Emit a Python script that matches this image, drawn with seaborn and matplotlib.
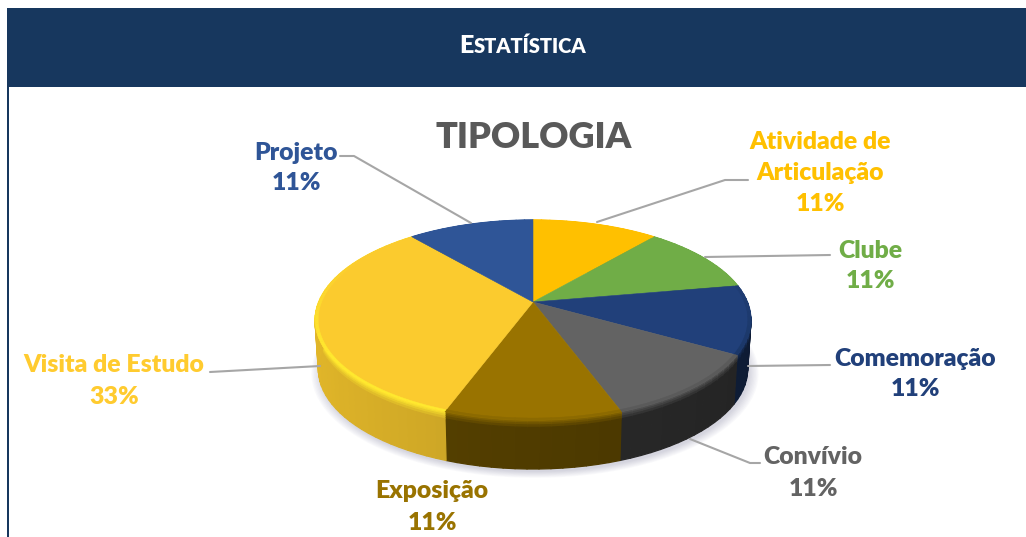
import numpy as np
import matplotlib
matplotlib.use('Agg')
import matplotlib.pyplot as plt
import seaborn as sns
from matplotlib.collections import PolyCollection
from matplotlib.colors import to_rgb
from matplotlib.patches import Polygon, Rectangle
from matplotlib.transforms import Transform

# chart data, clockwise from the top
categories = ['Atividade de\nArticulação', 'Clube', 'Comemoração', 'Convívio',
              'Exposição', 'Visita de Estudo', 'Projeto']
values = [11, 11, 11, 11, 11, 33, 11]

slice_colors = ['#FFC000', '#70AD47', '#21407A', '#636363',
                '#997300', '#FBCB2E', '#2F5597']
label_colors = ['#FFC000', '#70AD47', '#21407A', '#636363',
                '#997300', '#FFCB2F', '#2F5597']
rim_colors = ['#FFC000', '#70AD47', '#1B3768', '#5A5A5A',
              '#8C6A00', '#FFE92E', '#2F5597']
wall_dark = [0.6, 0.6, 0.5, 0.42, 0.52, 0.78, 0.6]

# label centres and leader lines, in pixels
label_xy = [(820, 173), (870, 266), (915, 374), (813, 473),
            (432, 507), (114, 381), (296, 168)]
leaders = [[(597, 222), (725, 180), (748, 180)],
           [(705, 257), (830, 255)],
           [(748, 366), (830, 365)],
           [(690, 439), (750, 463), (760, 463)],
           [],
           [(210, 372), (320, 366)],
           [(340, 156), (354, 156), (471, 223)]]

# perspective of the pie
CX, CY = 533, 302
A, B, P = 214.4, 96.8, 0.18
DEPTH = 49


def project(u, v, z=0.0):
    w = 1 + P * v
    return CX + A * u / w * (1 - 0.015 * z), CY - B * v / w + DEPTH * z


class TiltTransform(Transform):
    input_dims = 2
    output_dims = 2
    is_separable = False
    has_inverse = False

    def transform_non_affine(self, values):
        pts = np.asarray(values, dtype=float)
        x, y = project(pts[:, 0], pts[:, 1])
        return np.column_stack([x, y])


sns.set_theme(style='white')
plt.rcParams['font.family'] = ['Lato', 'DejaVu Sans']

fig = plt.figure(figsize=(10.26, 5.37), dpi=100)
ax = fig.add_axes([0, 0, 1, 1])

# header band and left border
ax.add_patch(Rectangle((7, 8), 1019, 79, color='#17375E', lw=0, zorder=10))
ax.add_patch(Rectangle((7, 87), 2, 450, color='#17375E', lw=0, zorder=10))

edges = np.cumsum([0] + values) / sum(values) * 2 * np.pi
tilt = TiltTransform() + ax.transData

# soft shadow under the pie
t = np.linspace(0, 2 * np.pi, 200)
for s in np.linspace(1.0, 1.04, 8):
    x, y = project(np.sin(t) * s, np.cos(t) * s, 1.0)
    ax.add_patch(Polygon(np.column_stack([x + 2, y + 3]), color=(0.35, 0.35, 0.5),
                         alpha=0.03, lw=0, zorder=1))

# side wall, with a blurred band under the rim
bands = [0, 0.03, 0.06, 0.1, 0.15, 1.0]
for i in range(len(values)):
    th = np.linspace(edges[i], edges[i + 1], max(int(values[i] * 1.5), 12))
    quads, cols = [], []
    base = np.array(to_rgb(slice_colors[i]))
    rim = np.array(to_rgb(rim_colors[i]))
    for a0, a1 in zip(th[:-1], th[1:]):
        um = np.sin((a0 + a1) / 2)
        wall = np.clip(base * wall_dark[i] * (1 - 0.15 * um), 0, 1)
        for b, (z0, z1) in enumerate(zip(bands[:-1], bands[1:])):
            mix = b / (len(bands) - 2)
            quads.append([project(np.sin(a0), np.cos(a0), z0),
                          project(np.sin(a1), np.cos(a1), z0),
                          project(np.sin(a1), np.cos(a1), z1),
                          project(np.sin(a0), np.cos(a0), z1)])
            cols.append(rim * (1 - mix) + wall * mix)
    ax.add_collection(PolyCollection(quads, facecolors=cols, edgecolors=cols,
                                     linewidths=0.9, zorder=2))

# top face
wedges, _ = ax.pie(values, colors=slice_colors, startangle=90, counterclock=False,
                   radius=1, wedgeprops={'linewidth': 0.4})
for w, c in zip(wedges, slice_colors):
    w.set_transform(tilt)
    w.set_edgecolor(c)
    w.set_zorder(3)

# bright bevel on the front part of the top edge, fading towards the back
for i in range(len(values)):
    th = np.linspace(edges[i], edges[i + 1], max(int(values[i] * 1.5), 12))
    base = np.array(to_rgb(slice_colors[i]))
    rim = np.array(to_rgb(rim_colors[i]))
    quads, cols = [], []
    for a0, a1 in zip(th[:-1], th[1:]):
        quads.append([project(np.sin(a0) * 0.986, np.cos(a0) * 0.986),
                      project(np.sin(a1) * 0.986, np.cos(a1) * 0.986),
                      project(np.sin(a1), np.cos(a1)),
                      project(np.sin(a0), np.cos(a0))])
        fade = np.clip(0.5 - np.cos((a0 + a1) / 2), 0, 1)
        cols.append(base * (1 - fade) + rim * fade)
    ax.add_collection(PolyCollection(quads, facecolors=cols, edgecolors=cols,
                                     linewidths=0.3, zorder=4))

# leader lines and labels
for line in leaders:
    if line:
        xs, ys = zip(*line)
        ax.plot(xs, ys, color='#A6A6A6', lw=1.5, zorder=2.5)

for cat, val, xy, col in zip(categories, values, label_xy, label_colors):
    ax.text(xy[0], xy[1], f'{cat}\n{val}%', color=col, fontsize=17.8, fontweight='heavy',
            ha='center', va='center', linespacing=1.5, zorder=5)

ax.text(534, 137, 'TIPOLOGIA', color='#595959', fontsize=26, fontweight='heavy',
        ha='center', va='center', zorder=5)

# small caps header
ax.text(474, 44, 'E', color='white', fontsize=18, fontweight='heavy',
        ha='right', va='center_baseline', zorder=11)
ax.text(474, 45, 'STATÍSTICA', color='white', fontsize=14.5, fontweight='heavy',
        ha='left', va='center_baseline', zorder=11)

ax.set_aspect('auto')
ax.set_xlim(0, 1026)
ax.set_ylim(537, 0)
ax.axis('off')

fig.savefig('out.png', dpi=100, facecolor='white')
